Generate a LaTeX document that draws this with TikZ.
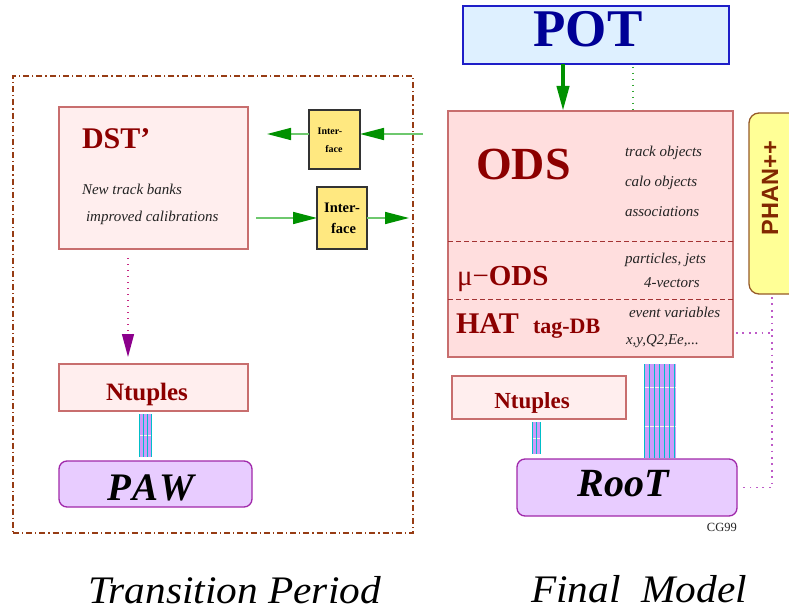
\documentclass[tikz,border=0pt]{standalone}
\usepackage{fontspec}
\setmainfont{Liberation Serif}
\newfontfamily\phanfont{Liberation Sans}
\usetikzlibrary{arrows.meta}
\definecolor{dred}{RGB}{140,0,0}
\definecolor{pinkfill}{RGB}{255,238,238}
\definecolor{pinkdraw}{RGB}{200,110,110}
\definecolor{odsfill}{RGB}{255,222,222}
\definecolor{ifill}{RGB}{255,232,128}
\definecolor{lgreen}{RGB}{110,200,110}
\definecolor{dgreen}{RGB}{0,145,0}
\definecolor{potfill}{RGB}{222,240,255}
\definecolor{potdraw}{RGB}{30,30,200}
\definecolor{pottext}{RGB}{0,0,150}
\definecolor{lav}{RGB}{232,204,255}
\definecolor{lavdraw}{RGB}{160,40,170}
\definecolor{phanfill}{RGB}{255,255,150}
\definecolor{phandraw}{RGB}{150,90,40}
\definecolor{phantext}{RGB}{130,40,0}
\definecolor{framecol}{RGB}{150,60,20}
\definecolor{dotpurple}{RGB}{190,90,200}
\definecolor{arrpurple}{RGB}{140,0,140}
\definecolor{barfill}{RGB}{205,155,250}
\definecolor{barline}{RGB}{0,190,200}
\definecolor{itgray}{RGB}{35,35,35}
\begin{document}
\begin{tikzpicture}[x=1pt,y=-1pt,
  box/.style={rectangle, inner sep=0pt, outer sep=0pt, anchor=north west},
  pinkbox/.style={box, fill=pinkfill, draw=pinkdraw, line width=1.3pt},
  odsbox/.style={box, fill=odsfill, draw=pinkdraw, line width=1.3pt},
  ifbox/.style={box, fill=ifill, draw=black!80, line width=1.1pt},
  lavbox/.style={box, fill=lav, draw=lavdraw, line width=1.3pt, rounded corners=8pt},
  potbox/.style={box, fill=potfill, draw=potdraw, line width=1.3pt},
  phanbox/.style={box, fill=phanfill, draw=phandraw, line width=1.3pt, rounded corners=10pt},
  framebox/.style={box, draw=framecol, line width=1.2pt, dash pattern=on 6pt off 3pt on 1.2pt off 3pt},
  barbox/.style={box, fill=barfill},
  barstripe/.style={barline, line width=1.3pt},
  barcross/.style={pinkfill, line width=0.8pt},
  txt/.style={inner sep=0pt, outer sep=0pt, anchor=base west},
  ctxt/.style={inner sep=0pt, outer sep=0pt, anchor=base},
  itsmall/.style={txt, font=\fontsize{15}{15}\selectfont\itshape, text=itgray},
  garrow/.style={lgreen, line width=1.6pt, -{Triangle[length=24pt,width=12pt,color=dgreen]}},
  potarrow/.style={dgreen, line width=4pt, -{Triangle[length=25pt,width=12pt]}},
  parrow/.style={magenta!80!black, line width=1.4pt, dash pattern=on 1.4pt off 4.6pt, -{Triangle[length=23pt,width=12pt,color=arrpurple]}},
  gdot/.style={dgreen!80, line width=1.3pt, dash pattern=on 1.3pt off 4.7pt},
  pdot/.style={dotpurple, line width=1.8pt, dash pattern=on 1.8pt off 4.6pt},
]
\useasboundingbox (0,0) rectangle (789,612);
\clip (0,0) rectangle (789,612);
\fill[white] (0,0) rectangle (789,612);

% frame of the transition period
\node[framebox, minimum width=400pt, minimum height=457pt] (frame) at (13,76) {};

% boxes
\node[pinkbox, minimum width=189pt, minimum height=142pt] (dst) at (59,107) {};
\node[ifbox, minimum width=51pt, minimum height=59pt] (ifs) at (309,110) {};
\node[ifbox, minimum width=50pt, minimum height=62pt] (ifb) at (317,187) {};
\node[pinkbox, minimum width=189pt, minimum height=47pt] (ntL) at (59,364) {};
\node[lavbox, minimum width=193pt, minimum height=46pt] (paw) at (59,461) {};
\node[potbox, minimum width=266pt, minimum height=58pt] (pot) at (463,6) {};
\node[odsbox, minimum width=285pt, minimum height=246pt] (ods) at (448,111) {};
\node[phanbox, minimum width=60pt, minimum height=181pt] (phan) at (749,113) {};
\node[pinkbox, minimum width=174pt, minimum height=43pt] (ntR) at (452,376) {};
\node[lavbox, minimum width=220pt, minimum height=57pt] (root) at (517,459) {};

% dashed separators in ODS
\coordinate (s1) at (0,241);
\coordinate (s2) at (0,299);
\draw[dred!80, line width=0.9pt, dash pattern=on 5pt off 3pt] (ods.west |- s1) -- (ods.east |- s1);
\draw[dred!80, line width=0.9pt, dash pattern=on 5pt off 3pt] (ods.west |- s2) -- (ods.east |- s2);

% striped bars
\node[barbox, minimum width=13pt, minimum height=43pt] (barL) at (139,414) {};
\draw[barcross] (139,435) -- (152,435);
\foreach \xx in {139.7,143.7,147.7,151.3} \draw[barstripe] (\xx,414) -- (\xx,457);
\node[barbox, minimum width=9pt, minimum height=32pt] (barRs) at (532,422) {};
\draw[barcross] (532,438) -- (541,438);
\foreach \xx in {532.7,536.5,540.3} \draw[barstripe] (\xx,422) -- (\xx,454);
\node[barbox, minimum width=32pt, minimum height=94pt] (barRb) at (644,364) {};
\draw[barcross] (644,387) -- (676,387);
\draw[barcross] (644,426) -- (676,426);
\foreach \xx in {644.7,649.6,654.5,659.4,664.3,669.2,674.6} \draw[barstripe] (\xx,364) -- (\xx,458);

% connectors
\coordinate (dstin) at (267,134);
\coordinate (odsout) at (423,134);
\coordinate (dstout) at (256,218);
\coordinate (odsin) at (409,218);
\draw[garrow] (ifs.west |- dstin) -- (dstin);
\draw[garrow] (odsout) -- (ifs.east |- odsout);
\draw[garrow] (dstout) -- (ifb.west |- dstout);
\draw[garrow] (ifb.east |- odsin) -- (odsin);

\coordinate (px) at (128,0);
\draw[parrow, shorten <=9pt, shorten >=7pt] (dst.south -| px) -- (ntL.north -| px);

\coordinate (gx) at (563,0);
\draw[potarrow] (pot.south -| gx) -- (ods.north -| gx);
\coordinate (dx) at (633,0);
\draw[gdot, shorten <=3pt] (pot.south -| dx) -- (ods.north -| dx);

\coordinate (vx) at (772,0);
\coordinate (hy) at (0,333);
\draw[pdot, shorten <=3pt] (ods.east |- hy) -- (vx |- hy);
\draw[pdot, shorten <=3pt, shorten >=3pt] (phan.south -| vx) -- (root.east -| vx) -- (root.east);

% texts
\node[txt, font=\fontsize{30}{30}\selectfont\bfseries, text=dred] (tdst) at (82,149) {DST'};
\node[itsmall] (tnew) at (82,195) {New track banks};
\node[itsmall] (timp) at (86,222) {improved calibrations};

\node[ctxt, font=\fontsize{10}{10}\selectfont\bfseries] (tis1) at (330,135) {Inter-};
\node[ctxt, font=\fontsize{10}{10}\selectfont\bfseries] (tis2) at (334,153) {face};
\node[ctxt, font=\fontsize{14.5}{14.5}\selectfont\bfseries] (tib1) at (342,213) {Inter-};
\node[ctxt, font=\fontsize{14.5}{14.5}\selectfont\bfseries] (tib2) at (343.5,234) {face};

\node[ctxt, font=\fontsize{25}{25}\selectfont\bfseries, text=dred] (tntL) at (147,400) {Ntuples};
\node[ctxt, font=\fontsize{39}{39}\selectfont\bfseries\itshape] (tpaw) at (151,500) {P\kern1ptA\kern1ptW};

\node[ctxt, font=\fontsize{53}{53}\selectfont\bfseries, text=pottext] (tpot) at (588,47) {POT};
\node[txt, font=\fontsize{46}{46}\selectfont\bfseries, text=dred] (tods) at (476,180) {ODS};
\node[itsmall] (ttrk) at (625,157) {track objects};
\node[itsmall] (tcal) at (625,187) {calo objects};
\node[itsmall] (tass) at (625,217) {associations};
\node[txt, font=\fontsize{29}{29}\selectfont, text=dred] (tmu) at (457,285) {μ−\textbf{ODS}};
\node[itsmall] (tpart) at (625,263) {particles, jets};
\node[itsmall] (tvec) at (644,287) {4-vectors};
\node[txt, font=\fontsize{30}{30}\selectfont\bfseries, text=dred] (that) at (456,333) {HAT};
\node[txt, font=\fontsize{22}{22}\selectfont\bfseries, text=dred] (ttag) at (533,333) {tag-DB};
\node[itsmall] (tev) at (629,317) {event variables};
\node[itsmall] (txy) at (626,344) {x,y,Q2,Ee,...};

\node[inner sep=0pt, rotate=90, font=\phanfont\fontsize{23.5}{23.5}\selectfont\bfseries, text=phantext] (tphan) at (770,188) {PHAN++};

\node[ctxt, font=\fontsize{23}{23}\selectfont\bfseries, text=dred] (tntR) at (532,408) {Ntuples};
\node[ctxt, font=\fontsize{40}{40}\selectfont\bfseries\itshape] (troot) at (623,496) {RooT};
\node[inner sep=0pt, anchor=base east, font=\fontsize{12.5}{12.5}\selectfont, text=itgray] (tcg) at (737,531) {CG99};

\node[txt, font=\fontsize{39}{39}\selectfont\itshape] (ttrans) at (88,603) {\scalebox{1.06}[1]{Transition Period}};
\node[txt, font=\fontsize{39}{39}\selectfont\itshape] (tfinal) at (531,602) {\scalebox{1.06}[1]{Final~~Model}};
\end{tikzpicture}
\end{document}
